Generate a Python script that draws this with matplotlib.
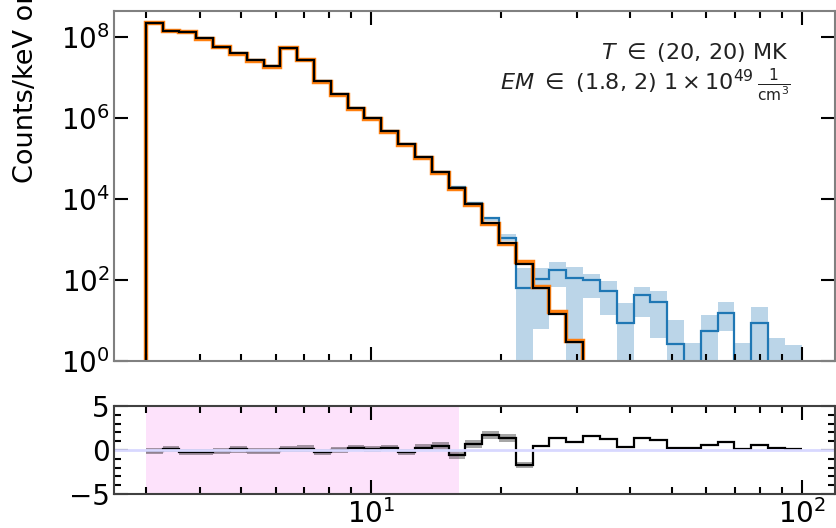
import numpy as np
import matplotlib
matplotlib.use("Agg")
import matplotlib.pyplot as plt
from matplotlib.ticker import MultipleLocator, NullLocator, NullFormatter

#%% datos (en log10 para las cuentas)
e_min, e_max, n_bins = 3.0, 100.0, 39
edges = np.logspace(np.log10(e_min), np.log10(e_max), n_bins + 1)  # bines log 3-100 keV

# modelo (negro) y datos (naranja), bines 0-25
log_model = [8.35, 8.15, 8.12, 7.97, 7.76, 7.61, 7.43, 7.27, 7.73, 7.43,
             6.90, 6.59, 6.24, 5.99, 5.68, 5.35, 5.04, 4.67, 4.28, 3.88,
             3.41, 2.92, 2.40, 1.79, 1.17, 0.46]
log_data = [8.34, 8.14, 8.11, 7.95, 7.74, 7.59, 7.41, 7.25, 7.72, 7.42,
            6.88, 6.57, 6.22, 5.97, 5.66, 5.33, 5.02, 4.65, 4.25, 3.85,
            3.38, 2.90, 2.44, 1.82, 1.21, 0.50]

# espectro azul con su banda (bines 0-38), -3 = fuera del eje
log_blue = [8.35, 8.15, 8.12, 7.97, 7.76, 7.61, 7.43, 7.27, 7.73, 7.43,
            6.90, 6.59, 6.24, 5.99, 5.68, 5.35, 5.04, 4.67, 4.29, 3.90,
            3.52, 3.03, 1.79, 2.02, 2.24, 2.04, 1.99, 1.74, 0.94, 1.63,
            1.46, 0.42, -3, 0.74, 1.18, -3, 0.93, -3, -3]
log_blue_hi = [8.36, 8.16, 8.13, 7.98, 7.77, 7.62, 7.44, 7.28, 7.74, 7.44,
               6.91, 6.60, 6.25, 6.00, 5.69, 5.36, 5.06, 4.69, 4.31, 3.93,
               3.56, 3.14, 2.30, 2.30, 2.45, 2.31, 2.16, 1.97, 1.44, 1.83,
               1.72, 1.01, 0.44, 1.14, 1.46, 0.44, 1.34, 0.58, 0.39]
log_blue_lo = [8.34, 8.14, 8.11, 7.96, 7.75, 7.60, 7.42, 7.26, 7.72, 7.42,
               6.89, 6.58, 6.23, 5.98, 5.67, 5.34, 5.02, 4.65, 4.27, 3.87,
               3.46, 2.95, -3, 0.80, 1.83, -3, 1.56, 1.14, -3, 1.09,
               0.58, -3, -3, -3, 0.75, -3, -3, -3, -3]

# residuos
resid = [-0.11, 0.15, -0.25, -0.25, -0.10, 0.06, -0.11, -0.11, 0.10, 0.17,
         -0.27, 0.04, 0.20, 0.08, 0.22, -0.22, 0.25, 0.50, -0.52, 0.70,
         1.75, 1.38, -1.72, 0.45, 1.40, 0.95, 1.59, 1.30, 0.38, 1.38,
         1.14, 0.28, 0.19, 0.60, 0.95, 0.15, 0.53, 0.26, 0.15]
resid_err = [0.35, 0.35, 0.35, 0.35, 0.35, 0.35, 0.35, 0.35, 0.35, 0.35,
             0.35, 0.35, 0.35, 0.35, 0.35, 0.35, 0.40, 0.45, 0.45, 0.45,
             0.45, 0.45, 0.35]
fit_range = (3.0, 16.0)

label_T = r"$T\ \in$ (20, 20) MK"
label_EM = r"$EM\ \in$ (1.8, 2) $1\times10^{49}\,\frac{1}{\mathrm{cm}^3}$"
ylabel = "Counts/keV on detector"

#%% figura
W, H = 836, 528
fig = plt.figure(figsize=(W / 100, H / 100), dpi=100)
ax = fig.add_axes([114 / W, 1 - 361 / H, 721 / W, 350 / H])
axr = fig.add_axes([114 / W, 1 - 494 / H, 721 / W, 88 / H], sharex=ax)

nm = len(log_model)
ax.stairs(10 ** np.array(log_blue_hi), edges, baseline=10 ** np.array(log_blue_lo),
          fill=True, color="#1f77b4", alpha=0.3, lw=0)
ax.stairs(10 ** np.array(log_blue), edges, baseline=None, color="#1f77b4", lw=1.6)
ax.stairs(10 ** np.array(log_data), edges[:nm + 1], baseline=1e-3, color="#ff7f0e", lw=3.2)
ax.stairs(10 ** np.array(log_model), edges[:nm + 1], baseline=1e-3, color="k", lw=1.6)

ax.set_xscale("log")
ax.set_yscale("log")
ax.set_xlim(2.53, 119.5)
ax.set_ylim(1, 10 ** 8.64)
ax.set_yticks([1e0, 1e2, 1e4, 1e6, 1e8])
ax.yaxis.set_minor_locator(NullLocator())
ax.tick_params(labelbottom=False)

ax.text(0.935, 0.862, label_T, transform=ax.transAxes, ha="right", va="baseline",
        fontsize=16, color="#222222")
ax.text(0.9376, 0.774, label_EM, transform=ax.transAxes, ha="right", va="baseline",
        fontsize=16, color="#222222")

# residuos
axr.axvspan(*fit_range, color="#fde2fb", lw=0)
axr.axhline(0, color="#d8d8ff", lw=2)
ne = len(resid_err)
r = np.array(resid[:ne])
re = np.array(resid_err)
axr.stairs(r + re, edges[:ne + 1], baseline=r - re, fill=True, color="k", alpha=0.35, lw=0)
axr.stairs(resid, edges, baseline=None, color="k", lw=1.6)
axr.set_ylim(-5, 5)
axr.set_yticks([-5, 0, 5])
axr.yaxis.set_minor_locator(MultipleLocator(1))
axr.xaxis.set_minor_formatter(NullFormatter())

for a, sc in [(ax, "0.5"), (axr, "0.25")]:
    a.tick_params(which="both", direction="in", top=True, right=True, labelsize=20)
    a.tick_params(which="major", length=10, width=1.5)
    a.tick_params(which="minor", length=5, width=1.5)
    a.tick_params(axis="y", pad=3)
    a.tick_params(axis="x", pad=4)
    for s in a.spines.values():
        s.set_color(sc)
        s.set_linewidth(1.5)

fig.text(26 / W, 1 - 183 / H, ylabel, rotation=90, ha="center", va="bottom", fontsize=19.5)

fig.savefig("out.png", dpi=100)
